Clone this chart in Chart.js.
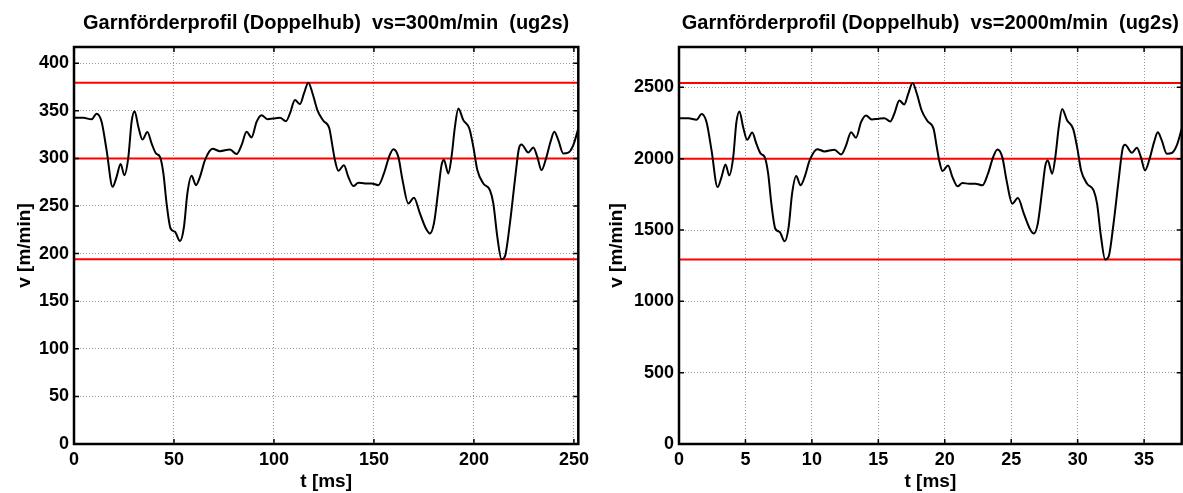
<!DOCTYPE html>
<html>
<head>
<meta charset="utf-8">
<script src="https://cdn.jsdelivr.net/npm/chart.js@4.4.1/dist/chart.umd.min.js"></script>
<style>
    body { margin: 0; background: #fff; width: 1183px; height: 493px; overflow: hidden; position: relative; }
    .box { position: absolute; top: 0; height: 493px; }
</style>
</head>
<body>
<div class="box" style="left:0;width:590px"><canvas id="chartSlow" width="590" height="493" style="width:590px;height:493px"></canvas></div>
<div class="box" style="left:590px;width:593px"><canvas id="chartFast" width="593" height="493" style="width:593px;height:493px"></canvas></div>
<script>
// vs = 300 m/min
const titleSlow = 'Garnförderprofil (Doppelhub)  vs=300m/min  (ug2s)';
const tSlow = [0, 4.7, 8.8, 11.3, 13.8, 16.3, 19.3, 21.3, 23.3, 25.2, 27.2, 28.8, 30.3, 32.2, 34.2, 36.7, 38.8, 41, 43, 44.7,
    46.3, 48.3, 50.5, 53, 55, 56.7, 58.8, 61, 63, 65.5, 69.3, 73, 78, 81.3, 83.8, 86.3, 88.8, 91.3, 93.8, 96.7,
    99.7, 103, 106, 108, 110.5, 113, 115, 117.2, 119.3, 121.7, 124.7, 127.7, 129.3, 130.5, 132.2, 135, 137.2, 139.7, 142.2, 145.5,
    148.8, 152.2, 155, 157.7, 159.7, 162.2, 164.3, 167.2, 170, 173, 176, 178, 180, 182.2, 183.8, 185, 187.2, 188.8, 190.5, 192.2,
    194.7, 197.7, 199.7, 201.7, 204.7, 208, 209.7, 211.7, 213.8, 215.5, 218, 220.5, 222.5, 223.8, 227.2, 229.7, 231.7, 233.8, 236.3, 238.3,
    240.2, 242.2, 244.7, 247.2, 249.7, 252.2];
const vSlow = [342.6, 342.6, 341, 347, 338.5, 308.7, 270.2, 280.6, 294, 282.4, 301.6, 338.4, 349.6, 333, 319.8, 327.6, 315.7, 305.2, 301.6, 284.2,
    252.7, 226.4, 222.9, 213.1, 228.2, 263.2, 281.7, 271.9, 280.6, 298.2, 310, 307.6, 309.4, 304.5, 313.9, 327.9, 322, 338.4, 345.4, 341.2,
    341.9, 342.6, 339.1, 347.2, 361.2, 357, 368.2, 379.5, 368.2, 350.7, 339.5, 331.4, 312.2, 298.2, 287, 292.9, 280.6, 270.9, 274.4, 273.7,
    273.7, 271.9, 284.2, 302.4, 309.7, 301.6, 277.2, 252.7, 258.6, 242.2, 226.4, 221.2, 231.7, 266.7, 292.9, 298.2, 284.2, 301.6, 333.1, 352.4,
    340.2, 331.4, 312.2, 287.7, 273.7, 266.7, 252.7, 217.6, 194, 197, 231.7, 277.2, 310.4, 314.6, 306.2, 311.5, 301.6, 287.7, 301.6, 317.4,
    327.9, 319.2, 305.2, 306, 313.9, 331.4];
const limitsSlow = [379.5, 300, 194];
const xTicksSlow = [0, 50, 100, 150, 200, 250];
const yTicksSlow = [0, 50, 100, 150, 200, 250, 300, 350, 400];

// vs = 2000 m/min
const titleFast = 'Garnförderprofil (Doppelhub)  vs=2000m/min  (ug2s)';
const tFast = [0, 0.71, 1.32, 1.70, 2.07, 2.45, 2.90, 3.20, 3.50, 3.78, 4.08, 4.32, 4.55, 4.83, 5.13, 5.51, 5.82, 6.15, 6.45, 6.71,
    6.95, 7.25, 7.58, 7.95, 8.25, 8.51, 8.82, 9.15, 9.45, 9.83, 10.40, 10.95, 11.70, 12.20, 12.57, 12.95, 13.32, 13.70, 14.07, 14.51,
    14.96, 15.45, 15.90, 16.20, 16.58, 16.95, 17.25, 17.58, 17.90, 18.26, 18.71, 19.16, 19.40, 19.58, 19.83, 20.25, 20.58, 20.96, 21.33, 21.83,
    22.32, 22.83, 23.25, 23.66, 23.96, 24.33, 24.65, 25.08, 25.50, 25.95, 26.40, 26.70, 27.00, 27.33, 27.57, 27.75, 28.08, 28.32, 28.58, 28.83,
    29.21, 29.66, 29.96, 30.26, 30.71, 31.20, 31.46, 31.76, 32.07, 32.33, 32.70, 33.08, 33.38, 33.57, 34.08, 34.46, 34.76, 35.07, 35.45, 35.75,
    36.03, 36.33, 36.71, 37.08, 37.46, 37.83];
const vFast = [2284, 2284, 2273, 2313, 2257, 2058, 1801, 1871, 1960, 1883, 2011, 2256, 2331, 2220, 2132, 2184, 2105, 2035, 2011, 1895,
    1685, 1509, 1486, 1421, 1521, 1755, 1878, 1813, 1871, 1988, 2067, 2051, 2063, 2030, 2093, 2186, 2147, 2256, 2303, 2275,
    2279, 2284, 2261, 2315, 2408, 2380, 2455, 2530, 2455, 2338, 2263, 2209, 2081, 1988, 1913, 1953, 1871, 1806, 1829, 1825,
    1825, 1813, 1895, 2016, 2065, 2011, 1848, 1685, 1724, 1615, 1509, 1475, 1545, 1778, 1953, 1988, 1895, 2011, 2221, 2349,
    2268, 2209, 2081, 1918, 1825, 1778, 1685, 1451, 1293, 1313, 1545, 1848, 2069, 2097, 2041, 2077, 2011, 1918, 2011, 2116,
    2186, 2128, 2035, 2040, 2093, 2209];
const limitsFast = [2530, 2000, 1293];
const xTicksFast = [0, 5, 10, 15, 20, 25, 30, 35];
const yTicksFast = [0, 500, 1000, 1500, 2000, 2500];

const FONT = '"Liberation Sans", Arial, Helvetica, sans-serif';

// MATLAB-like box with inward ticks plus the title over the plot area
const matlabFrame = {
    id: 'matlabFrame',
    afterDraw(chart, args, opts) {
        const ctx = chart.ctx;
        const a = chart.chartArea;
        const x = chart.scales.x;
        const y = chart.scales.y;
        ctx.save();
        ctx.strokeStyle = '#000';
        ctx.lineWidth = 1.5;
        ctx.beginPath();
        x.ticks.forEach(t => {
            const px = x.getPixelForValue(t.value);
            ctx.moveTo(px, a.bottom); ctx.lineTo(px, a.bottom - 5);
            ctx.moveTo(px, a.top); ctx.lineTo(px, a.top + 5);
        });
        y.ticks.forEach(t => {
            const py = y.getPixelForValue(t.value);
            ctx.moveTo(a.left, py); ctx.lineTo(a.left + 5, py);
            ctx.moveTo(a.right, py); ctx.lineTo(a.right - 5, py);
        });
        ctx.stroke();
        ctx.lineWidth = 2.5;
        ctx.strokeRect(a.left, a.top, a.right - a.left, a.bottom - a.top);
        ctx.fillStyle = '#000';
        ctx.font = 'bold 20px ' + FONT;
        ctx.textAlign = 'center';
        ctx.textBaseline = 'alphabetic';
        ctx.fillText(opts.text, (a.left + a.right) / 2, 29);
        ctx.restore();
    }
};

function makeChart(id, title, tVals, vVals, limits, xTicks, yTicks, xMax, yMax, yAxisWidth, padRight, yTitlePad) {
    const curve = tVals.map((t, i) => ({ x: t, y: vVals[i] }));
    const datasets = [{
        data: curve,
        borderColor: '#000',
        borderWidth: 2,
        pointRadius: 0,
        cubicInterpolationMode: 'monotone',
        fill: false
    }];
    limits.forEach(v => {
        datasets.push({
            data: [{ x: 0, y: v }, { x: xMax, y: v }],
            borderColor: '#ff0000',
            borderWidth: 2,
            pointRadius: 0,
            fill: false
        });
    });

    const ctx = document.getElementById(id).getContext('2d');
    return new Chart(ctx, {
        type: 'line',
        data: { datasets: datasets },
        options: {
            responsive: false,
            animation: false,
            events: [],
            layout: { padding: { left: 0, right: padRight, top: 47, bottom: 0 } },
            plugins: {
                legend: { display: false },
                tooltip: { enabled: false },
                matlabFrame: { text: title }
            },
            scales: {
                x: {
                    type: 'linear',
                    min: 0,
                    max: xMax,
                    afterBuildTicks: scale => { scale.ticks = xTicks.map(v => ({ value: v })); },
                    afterFit: scale => { scale.height = 49; scale.paddingLeft = 0; scale.paddingRight = 0; },
                    ticks: {
                        autoSkip: false,
                        maxRotation: 0,
                        padding: 5,
                        color: '#000',
                        callback: v => String(v),
                        font: { family: FONT, size: 18, weight: 'bold' }
                    },
                    grid: { color: '#999', lineWidth: 1, drawTicks: false },
                    border: { display: false, dash: [1, 2] },
                    title: {
                        display: true,
                        text: 't [ms]',
                        color: '#000',
                        padding: { top: 0, bottom: 0 },
                        font: { family: FONT, size: 19, weight: 'bold' }
                    }
                },
                y: {
                    type: 'linear',
                    min: 0,
                    max: yMax,
                    afterBuildTicks: scale => { scale.ticks = yTicks.map(v => ({ value: v })); },
                    afterFit: scale => { scale.width = yAxisWidth; scale.paddingTop = 0; scale.paddingBottom = 0; },
                    ticks: {
                        autoSkip: false,
                        padding: 5,
                        color: '#000',
                        callback: v => String(v),
                        font: { family: FONT, size: 18, weight: 'bold' }
                    },
                    grid: { color: '#999', lineWidth: 1, drawTicks: false },
                    border: { display: false, dash: [1, 2] },
                    title: {
                        display: true,
                        text: 'v [m/min]',
                        color: '#000',
                        padding: { top: yTitlePad, bottom: 0 },
                        font: { family: FONT, size: 19, weight: 'bold' }
                    }
                }
            }
        },
        plugins: [matlabFrame]
    });
}

makeChart('chartSlow', titleSlow, tSlow, vSlow, limitsSlow, xTicksSlow, yTicksSlow, 252.2, 417, 74, 11.7, 13.6);
makeChart('chartFast', titleFast, tFast, vFast, limitsFast, xTicksFast, yTicksFast, 37.83, 2783, 89, 1.3, 15.6);
</script>
</body>
</html>
